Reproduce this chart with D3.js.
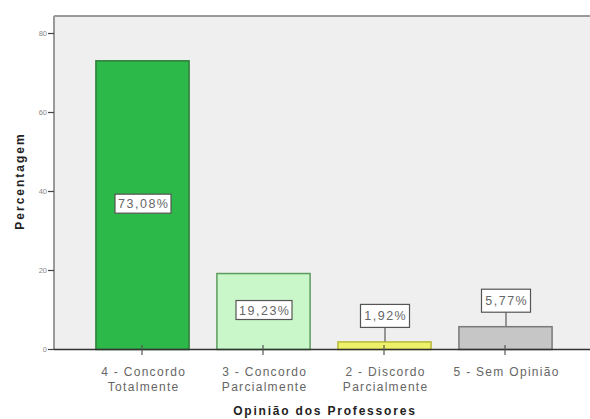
<!DOCTYPE html>
<html>
<head>
<meta charset="utf-8">
<script src="https://cdn.jsdelivr.net/npm/d3@7"></script>
<style>
  html, body { margin: 0; padding: 0; background: #ffffff; }
  svg { display: block; font-family: Arial, "Liberation Sans", sans-serif; }
</style>
</head>
<body>
<svg id="chart" width="590" height="419"></svg>
<script>
// Opinion categories (two-line labels) and percentage of teachers
const categories = ["4 - Concordo|Totalmente", "3 - Concordo|Parcialmente", "2 - Discordo|Parcialmente", "5 - Sem Opinião"];
const values = [73.08, 19.23, 1.92, 5.77];
const valueLabels = ["73,08%", "19,23%", "1,92%", "5,77%"];
const yTicks = [0, 20, 40, 60, 80];
const fills = ["#2db84a", "#c9f7c9", "#eef06a", "#c6c6c6"];
const strokes = ["#2f7d3a", "#5c9c5c", "#b9b83a", "#7a7a7a"];

const svg = d3.select("#chart");
const plot = { left: 54, top: 16, right: 590, bottom: 349 };

const y = d3.scaleLinear().domain([0, 80]).range([plot.bottom, plot.bottom - 80 * 3.95]);
const x = d3.scaleBand().domain(categories).range([81.5, 565.5]).paddingInner(0.23).paddingOuter(0.115);

// letter-spaced text is centred without its trailing gap
function spaced(sel, ls) {
  sel.attr("letter-spacing", ls).attr("dx", ls / 2);
}

// plot area background and frame
svg.append("rect")
  .attr("x", plot.left).attr("y", plot.top)
  .attr("width", plot.right - plot.left).attr("height", plot.bottom - plot.top)
  .attr("fill", "#efefef");
svg.append("line")
  .attr("x1", plot.left).attr("x2", plot.right).attr("y1", plot.top).attr("y2", plot.top)
  .attr("stroke", "#9a9a9a").attr("stroke-width", 2);
svg.append("line")
  .attr("x1", plot.left).attr("x2", plot.left).attr("y1", plot.top).attr("y2", plot.bottom)
  .attr("stroke", "#9a9a9a").attr("stroke-width", 2);

// bars
svg.append("g").selectAll("rect").data(values).join("rect")
  .attr("x", (d, i) => x(categories[i]) + 0.5)
  .attr("y", d => y(d) + 0.5)
  .attr("width", x.bandwidth())
  .attr("height", d => y(0) - y(d))
  .attr("fill", (d, i) => fills[i])
  .attr("stroke", (d, i) => strokes[i])
  .attr("stroke-width", 1.5);

// y axis
const yAxis = svg.append("g")
  .attr("transform", `translate(${plot.left},0)`)
  .call(d3.axisLeft(y).tickValues(yTicks).tickSize(6).tickPadding(1));
yAxis.select(".domain").remove();
yAxis.selectAll(".tick line").attr("stroke", "#444").attr("stroke-width", 1.2);
yAxis.selectAll(".tick text").attr("fill", "#888").attr("font-size", 7.5);

// x axis
const xAxis = svg.append("g")
  .attr("transform", `translate(0,${plot.bottom})`)
  .call(d3.axisBottom(x).tickSize(8).tickSizeOuter(0).tickFormat(""));
xAxis.select(".domain").attr("d", `M${plot.left},0.5H${plot.right}`).attr("stroke", "#333").attr("stroke-width", 1.5);
xAxis.selectAll(".tick line").attr("stroke", "#555").attr("stroke-width", 1.2).attr("y1", -4).attr("y2", 6);

// category labels (two lines)
svg.append("g").selectAll("text").data(categories).join("text")
  .attr("y", 376)
  .attr("text-anchor", "middle")
  .attr("font-size", 12)
  .attr("fill", "#666")
  .each(function(d) {
    d.split("|").forEach((line, k) => {
      const t = d3.select(this).append("tspan")
        .attr("x", x(d) + x.bandwidth() / 2 + 1)
        .attr("y", 376 + k * 15)
        .text(line);
      spaced(t, 1.3);
    });
  });

// axis titles
spaced(svg.append("text")
  .attr("x", 324).attr("y", 415)
  .attr("text-anchor", "middle")
  .attr("font-size", 12).attr("font-weight", "bold").attr("fill", "#222")
  .text("Opinião dos Professores"), 1.8);
spaced(svg.append("text")
  .attr("transform", `translate(24,182) rotate(-90)`)
  .attr("text-anchor", "middle")
  .attr("font-size", 12).attr("font-weight", "bold").attr("fill", "#222")
  .text("Percentagem"), 2);

// value labels: inside the bar when tall enough, otherwise above with a leader line
const labels = svg.append("g");
values.forEach((v, i) => {
  const cx = x(categories[i]) + x.bandwidth() / 2 + 1;
  const inside = v > 10;
  const boxH = inside ? 19 : 23;
  const boxW = valueLabels[i].length > 5 ? 56 : 49;
  const cy = inside ? y(v / 2) - 1 : y(v) - 14 - boxH / 2;
  if (!inside) {
    labels.append("line")
      .attr("x1", cx).attr("x2", cx)
      .attr("y1", cy + boxH / 2).attr("y2", y(v))
      .attr("stroke", "#777").attr("stroke-width", 1.5);
  }
  labels.append("rect")
    .attr("x", cx - boxW / 2).attr("y", cy - boxH / 2)
    .attr("width", boxW).attr("height", boxH)
    .attr("fill", "#ffffff").attr("stroke", "#555").attr("stroke-width", 1.2);
  spaced(labels.append("text")
    .attr("x", cx).attr("y", cy + 4.5)
    .attr("text-anchor", "middle")
    .attr("font-size", 12.5).attr("fill", "#666")
    .text(valueLabels[i]), 1.5);
});
</script>
</body>
</html>
